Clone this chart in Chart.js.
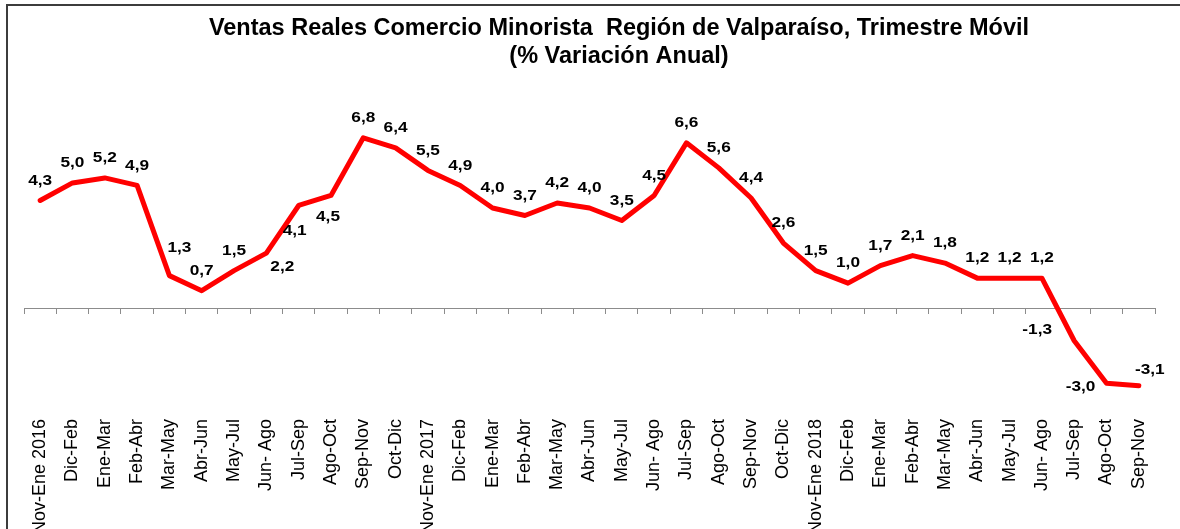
<!DOCTYPE html>
<html><head><meta charset="utf-8">
<script src="https://cdn.jsdelivr.net/npm/chart.js@4.4.1/dist/chart.umd.min.js"></script>
<style>
html,body{margin:0;padding:0;background:#fff;overflow:hidden;width:1180px;height:529px;}
#frame{position:absolute;left:6px;top:4px;width:1400px;height:800px;border-left:2px solid #3c3c3c;border-top:2px solid #3c3c3c;}
#wrap{position:absolute;left:0;top:0;width:1180px;height:537px;}
</style></head><body>
<div id="frame"></div>
<div id="wrap"><canvas id="c" width="1180" height="537"></canvas></div>
<script>
const titleLines = ['Ventas Reales Comercio Minorista  Región de Valparaíso, Trimestre Móvil', '(% Variación Anual)'];
const categories = ['Nov-Ene 2016','Dic-Feb','Ene-Mar','Feb-Abr','Mar-May','Abr-Jun','May-Jul','Jun- Ago','Jul-Sep','Ago-Oct','Sep-Nov','Oct-Dic',
  'Nov-Ene 2017','Dic-Feb','Ene-Mar','Feb-Abr','Mar-May','Abr-Jun','May-Jul','Jun- Ago','Jul-Sep','Ago-Oct','Sep-Nov','Oct-Dic',
  'Nov-Ene 2018','Dic-Feb','Ene-Mar','Feb-Abr','Mar-May','Abr-Jun','May-Jul','Jun- Ago','Jul-Sep','Ago-Oct','Sep-Nov'];
const ventas = [4.3,5.0,5.2,4.9,1.3,0.7,1.5,2.2,4.1,4.5,6.8,6.4,
  5.5,4.9,4.0,3.7,4.2,4.0,3.5,4.5,6.6,5.6,4.4,2.6,
  1.5,1.0,1.7,2.1,1.8,1.2,1.2,1.2,-1.3,-3.0,-3.1];

const FONT = '"Liberation Sans", Arial, Helvetica, sans-serif';
const defaultOffset = [0, -20];
const labelOffsets = {4:[10,-28], 7:[16,14], 8:[-4,25], 9:[-3,21], 32:[-37,-11], 33:[-26,4], 34:[11,-16]};
const fmt = v => v.toFixed(1).replace('.', ',');

const titlePlugin = {
  id: 'customTitle',
  afterDraw(chart) {
    const ctx = chart.ctx;
    ctx.save();
    ctx.font = 'bold 23.5px ' + FONT;
    ctx.fillStyle = '#000';
    ctx.textAlign = 'center';
    ctx.textBaseline = 'middle';
    titleLines.forEach((t, i) => ctx.fillText(t, 619, 29 + i * 28));
    ctx.restore();
  }
};

const labelPlugin = {
  id: 'valueLabels',
  afterDatasetsDraw(chart) {
    const meta = chart.getDatasetMeta(0);
    const ctx = chart.ctx;
    ctx.save();
    ctx.font = 'bold 15px ' + FONT;
    ctx.fillStyle = '#000';
    ctx.textAlign = 'center';
    ctx.textBaseline = 'middle';
    meta.data.forEach((pt, i) => {
      const off = labelOffsets[i] || defaultOffset;
      ctx.save();
      ctx.translate(pt.x + off[0], pt.y + off[1]);
      ctx.scale(1.15, 1);
      ctx.fillText(fmt(ventas[i]), 0, 0);
      ctx.restore();
    });
    ctx.restore();
  }
};

new Chart(document.getElementById('c'), {
  type: 'line',
  data: {
    labels: categories,
    datasets: [{
      data: ventas,
      borderColor: '#ff0000',
      backgroundColor: '#ff0000',
      borderWidth: 5,
      pointRadius: 0,
      pointHoverRadius: 0,
      tension: 0,
      borderJoinStyle: 'round',
      borderCapStyle: 'round',
      clip: false,
      xAxisID: 'x',
      yAxisID: 'y'
    }]
  },
  options: {
    responsive: false,
    animation: false,
    devicePixelRatio: 1,
    layout: { padding: { left: 24, right: 25, top: 100, bottom: 0 } },
    plugins: { legend: { display: false }, title: { display: false }, tooltip: { enabled: false } },
    scales: {
      y: { display: false, min: -4.3, max: 8.31 },
      x: {
        type: 'category',
        position: { y: 0 },
        offset: true,
        grid: { display: true, offset: true, drawOnChartArea: false, drawTicks: true, tickLength: 5, color: '#8c8c8c', lineWidth: 1 },
        border: { display: true, color: '#8c8c8c', width: 1 },
        ticks: { display: false }
      },
      x2: {
        type: 'category',
        axis: 'x',
        position: 'bottom',
        offset: true,
        grid: { display: false, drawTicks: false },
        border: { display: false },
        ticks: {
          autoSkip: false, minRotation: 90, maxRotation: 90, padding: 3,
          color: '#000', font: { family: FONT, size: 18 }
        }
      }
    }
  },
  plugins: [labelPlugin, titlePlugin]
});
</script>
</body></html>
